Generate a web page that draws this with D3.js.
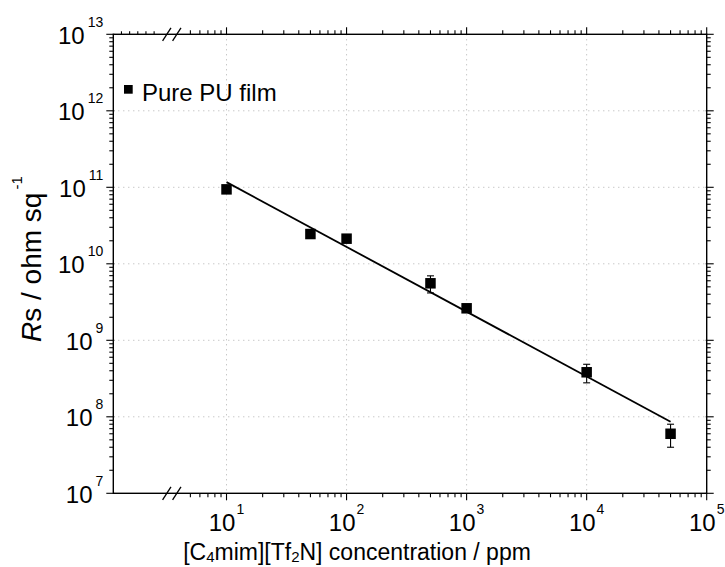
<!DOCTYPE html>
<html>
<head>
<meta charset="utf-8">
<script src="https://cdn.jsdelivr.net/npm/d3@7"></script>
<style>
  html, body { margin: 0; padding: 0; background: #fff; }
  svg { display: block; font-family: "Liberation Sans", Arial, sans-serif; }
</style>
</head>
<body>
<svg id="chart" width="725" height="567"></svg>
<script>
// Sheet resistance of pure PU film vs. ionic liquid concentration
const concentration = [10, 50, 100, 500, 1000, 10000, 50000];           // ppm
const sheetResistance = [9.4e10, 2.45e10, 2.13e10, 5.56e9, 2.62e9, 3.82e8, 6.0e7]; // ohm/sq
const resistanceError = [4e9, 3e9, 1.2e9, 1.4e9, 1.5e8, 1.04e8, 2.0e7];

// Linear fit on log-log axes (end points of the fitted line)
const fitX = [10, 50000];
const fitY = [1.17e11, 8.6e7];

// Axis ticks
const xMajorExp = [1, 2, 3, 4, 5];
const yMajorExp = [7, 8, 9, 10, 11, 12, 13];
const xDomain = [1.14, 1e5];
const yDomain = [1e7, 1e13];
const xBreakValue = 3.5;     // axis break between the origin segment and the log decades

const legendLabel = "Pure PU film";

const svg = d3.select("#chart");
svg.append("rect").attr("width", 725).attr("height", 567).attr("fill", "#fff");

const plot = { left: 113.3, right: 706.7, top: 34.3, bottom: 493.3 };

const x = d3.scaleLog().domain(xDomain).range([plot.left, plot.right]);
const y = d3.scaleLog().domain(yDomain).range([plot.bottom, plot.top]);

// Dotted grid at each decade
const grid = svg.append("g").attr("stroke", "#b0b0b0").attr("stroke-width", 1)
  .attr("stroke-dasharray", "1,4");
xMajorExp.filter(e => e < 5).forEach(e => {
  grid.append("line").attr("x1", x(10 ** e)).attr("x2", x(10 ** e))
    .attr("y1", plot.top).attr("y2", plot.bottom);
});
yMajorExp.filter(e => e > 7 && e < 13).forEach(e => {
  grid.append("line").attr("y1", y(10 ** e)).attr("y2", y(10 ** e))
    .attr("x1", plot.left).attr("x2", plot.right);
});

// Frame
svg.append("rect")
  .attr("x", plot.left).attr("y", plot.top)
  .attr("width", plot.right - plot.left).attr("height", plot.bottom - plot.top)
  .attr("fill", "none").attr("stroke", "#000").attr("stroke-width", 1.4);

// Tick marks (outward on all four sides)
const ticks = svg.append("g").attr("stroke", "#000").attr("stroke-width", 1.1);
function minorValues(exps, lo, hi) {
  const out = [];
  exps.forEach(e => { for (let k = 2; k <= 9; k++) { const v = k * 10 ** e; if (v > lo && v < hi) out.push(v); } });
  return out;
}
const xMinor = minorValues([0, 1, 2, 3, 4], 4.5, 1e5);
const yMinor = minorValues([7, 8, 9, 10, 11, 12], 1e7, 1e13);

xMajorExp.forEach(e => {
  const px = x(10 ** e);
  ticks.append("line").attr("x1", px).attr("x2", px).attr("y1", plot.bottom).attr("y2", plot.bottom + 7);
  ticks.append("line").attr("x1", px).attr("x2", px).attr("y1", plot.top).attr("y2", plot.top - 7);
});
xMinor.forEach(v => {
  const px = x(v);
  ticks.append("line").attr("x1", px).attr("x2", px).attr("y1", plot.bottom).attr("y2", plot.bottom + 4);
  ticks.append("line").attr("x1", px).attr("x2", px).attr("y1", plot.top).attr("y2", plot.top - 4);
});
// small ticks on the top origin segment before the break
const breakPx = x(xBreakValue);
const segEnd = breakPx - 9.5;
d3.range(1, 6).forEach(i => {
  const px = plot.left + i * (segEnd - plot.left) / 6;
  ticks.append("line").attr("x1", px).attr("x2", px).attr("y1", plot.top).attr("y2", plot.top - 3);
});
yMajorExp.forEach(e => {
  const py = y(10 ** e);
  ticks.append("line").attr("y1", py).attr("y2", py).attr("x1", plot.left - 7).attr("x2", plot.left + 1);
  ticks.append("line").attr("y1", py).attr("y2", py).attr("x1", plot.right - 1).attr("x2", plot.right + 7);
});
yMinor.forEach(v => {
  const py = y(v);
  ticks.append("line").attr("y1", py).attr("y2", py).attr("x1", plot.left - 4).attr("x2", plot.left);
  ticks.append("line").attr("y1", py).attr("y2", py).attr("x1", plot.right).attr("x2", plot.right + 4);
});

// Axis break marks "//" on top and bottom axes
[plot.top, plot.bottom].forEach(yy => {
  [-5, 5].forEach(off => {
    const cx = breakPx + off;
    svg.append("line")
      .attr("x1", cx - 4.2).attr("y1", yy + 6.5)
      .attr("x2", cx + 4.2).attr("y2", yy - 6.5)
      .attr("stroke", "#000").attr("stroke-width", 1.3);
  });
});

// Tick labels: 10^n
const labels = svg.append("g").attr("fill", "#000");
yMajorExp.forEach(e => {
  const t = labels.append("text").attr("x", plot.left - 10).attr("y", y(10 ** e) + 9.5)
    .attr("text-anchor", "end").attr("font-size", 24);
  t.append("tspan").text("10");
  t.append("tspan").attr("font-size", 14).attr("dx", 3).attr("dy", -17).text(e);
});
xMajorExp.forEach(e => {
  const t = labels.append("text").attr("x", x(10 ** e)).attr("y", 531)
    .attr("text-anchor", "middle").attr("font-size", 24);
  t.append("tspan").text("10");
  t.append("tspan").attr("font-size", 14).attr("dx", 1).attr("dy", -17).text(e);
});

// Axis titles
const xt = svg.append("text").attr("x", 357).attr("y", 560)
  .attr("text-anchor", "middle").attr("font-size", 23);
xt.append("tspan").text("[C");
xt.append("tspan").attr("font-size", 15).attr("dy", 2).text("4");
xt.append("tspan").attr("dy", -2).text("mim][Tf");
xt.append("tspan").attr("font-size", 15).attr("dy", 2).text("2");
xt.append("tspan").attr("dy", -2).text("N] concentration / ppm");

const yt = svg.append("text")
  .attr("transform", "translate(41,342) rotate(-90)")
  .attr("text-anchor", "start").attr("font-size", 28);
yt.append("tspan").attr("font-style", "italic").text("R");
yt.append("tspan").text("s / ohm sq");
yt.append("tspan").attr("font-size", 15).attr("dx", 3).attr("dy", -19).text("-1");

// Fitted line
svg.append("path")
  .datum(fitX.map((v, i) => [v, fitY[i]]))
  .attr("d", d3.line().x(d => x(d[0])).y(d => y(d[1])))
  .attr("fill", "none").attr("stroke", "#000").attr("stroke-width", 1.8);

// Error bars
const pts = concentration.map((c, i) => ({ c, r: sheetResistance[i], e: resistanceError[i] }));
const eb = svg.append("g").attr("stroke", "#000").attr("stroke-width", 1.1);
pts.forEach(d => {
  const px = x(d.c), y1 = y(d.r + d.e), y2 = y(d.r - d.e);
  eb.append("line").attr("x1", px).attr("x2", px).attr("y1", y1).attr("y2", y2);
  eb.append("line").attr("x1", px - 3.5).attr("x2", px + 3.5).attr("y1", y1).attr("y2", y1);
  eb.append("line").attr("x1", px - 3.5).attr("x2", px + 3.5).attr("y1", y2).attr("y2", y2);
});

// Square markers
const size = 10.5;
svg.append("g").selectAll("rect").data(pts).join("rect")
  .attr("x", d => x(d.c) - size / 2).attr("y", d => y(d.r) - size / 2)
  .attr("width", size).attr("height", size).attr("fill", "#000");

// Legend
svg.append("rect").attr("x", 124).attr("y", 85).attr("width", 8.7).attr("height", 8.7).attr("fill", "#000");
svg.append("text").attr("x", 142).attr("y", 101).attr("font-size", 24).text(legendLabel);
</script>
</body>
</html>
